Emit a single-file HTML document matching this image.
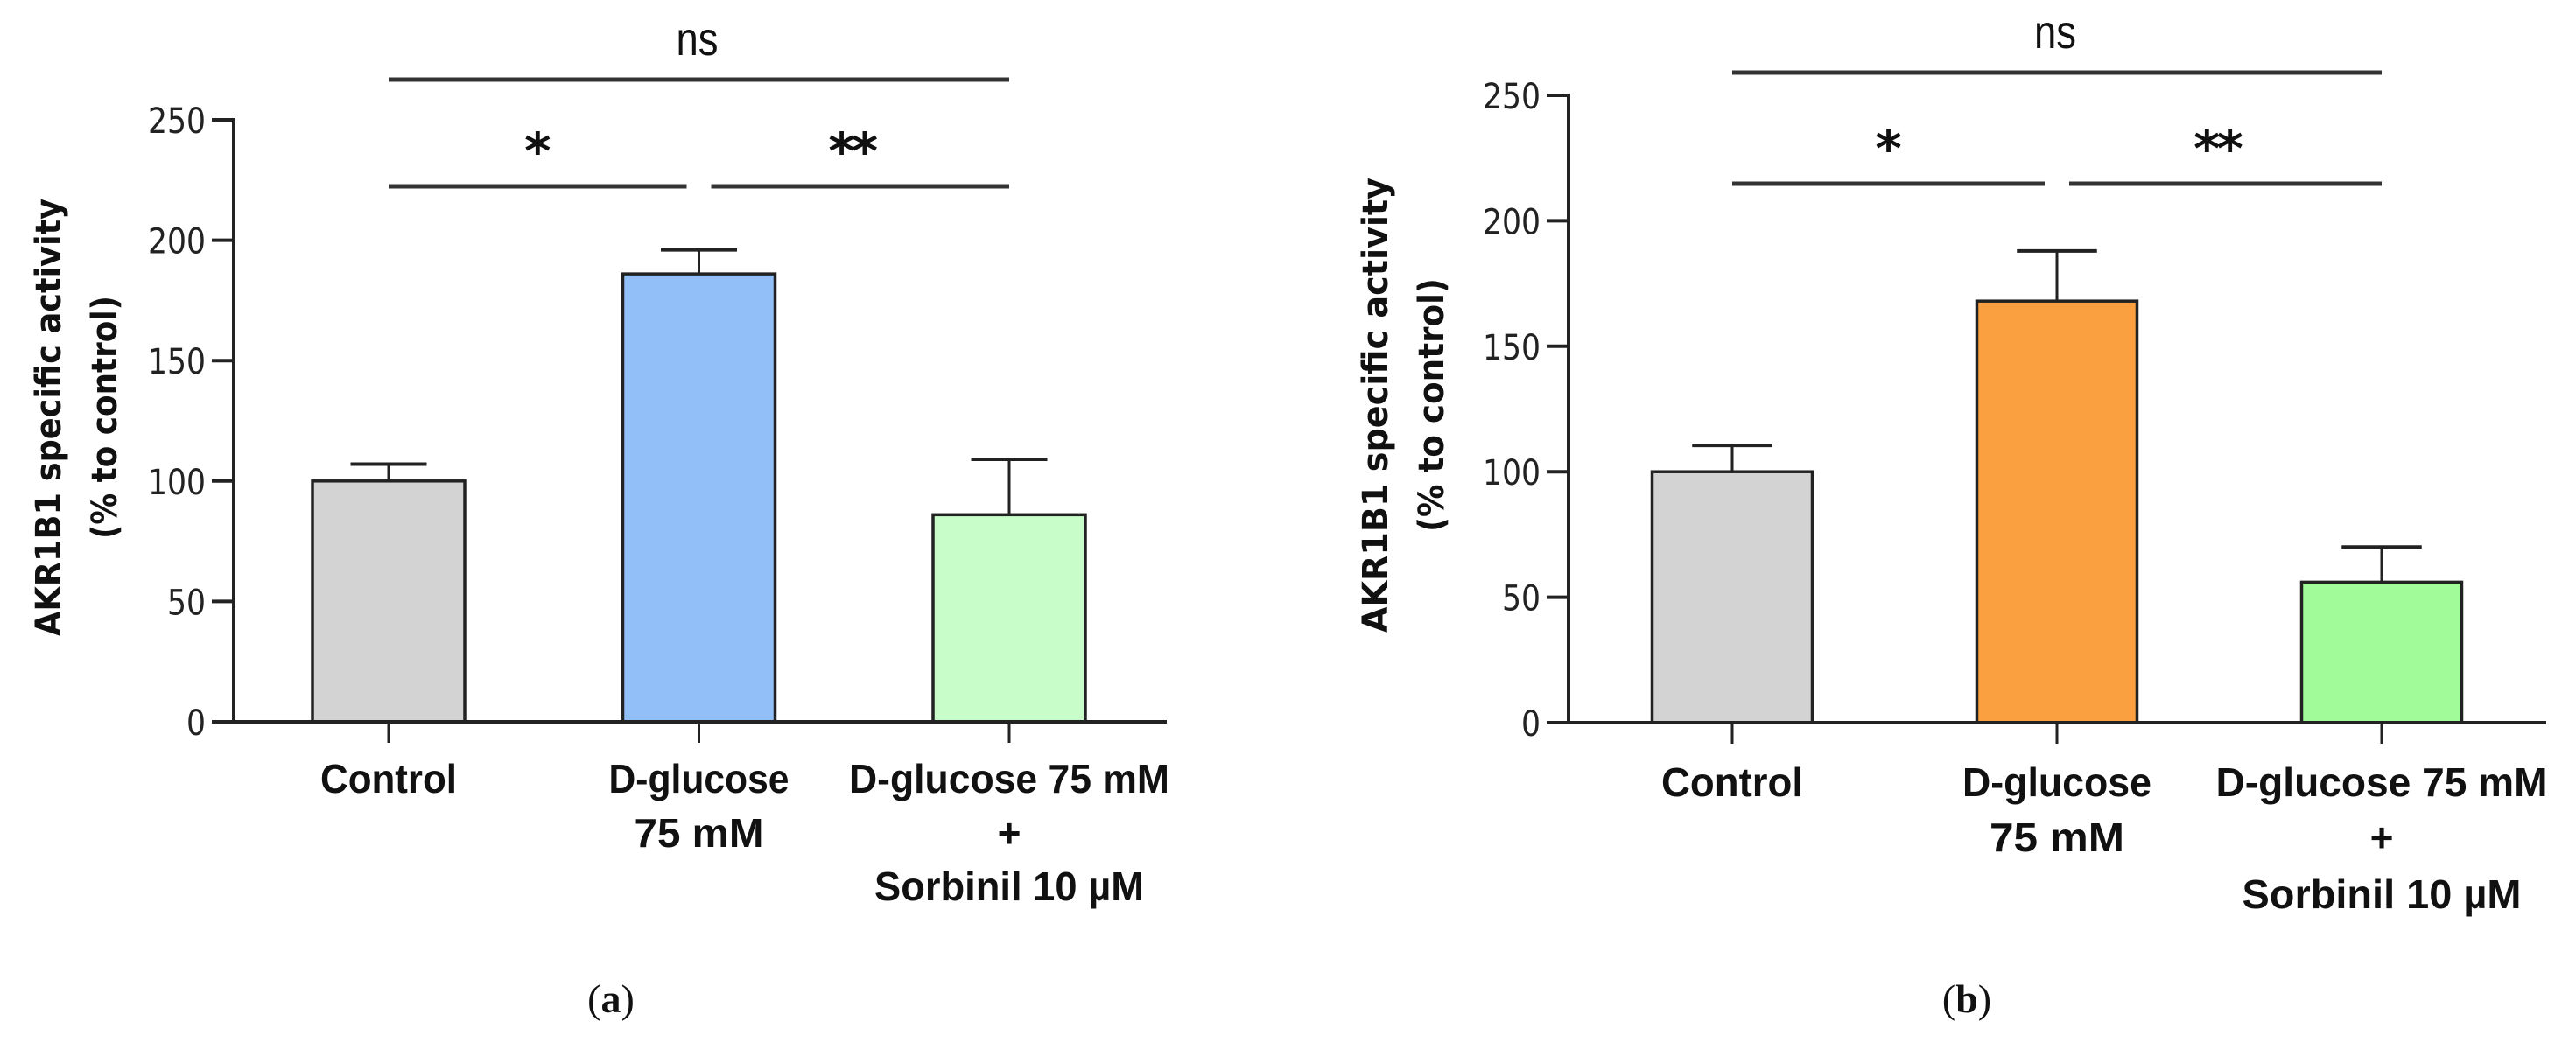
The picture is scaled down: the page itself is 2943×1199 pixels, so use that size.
<!DOCTYPE html>
<html><head><meta charset="utf-8"><style>
html,body{margin:0;padding:0;background:#fff;}
svg{display:block;}
</style></head><body>
<svg id="chart" width="2943" height="1199" viewBox="0 0 2943 1199" xmlns="http://www.w3.org/2000/svg">
<rect width="2943" height="1199" fill="#fff"/>
<g id="pa"></g>
<g id="pb"></g>
</svg>
<script>
const categories = ["Control", "D-glucose 75 mM", "D-glucose 75 mM + Sorbinil 10 µM"];
const yTicks = [0, 50, 100, 150, 200, 250];
const valuesA = [100, 186, 86];
const errorsA = [7, 10, 23];
const valuesB = [100, 168, 56];
const errorsB = [10.5, 20, 14];
const colorsA = ["#d3d3d3", "#92bff7", "#c8fcc8"];
const colorsB = ["#d3d3d3", "#fba040", "#a0fb98"];
const sigLabels = ["*", "**", "ns"];

const NS = "http://www.w3.org/2000/svg";
function el(parent, tag, attrs, text) {
  const e = document.createElementNS(NS, tag);
  for (const k in attrs) e.setAttribute(k, attrs[k]);
  if (text !== undefined) e.textContent = text;
  parent.appendChild(e);
  return e;
}

function drawPanel(g, cfg, values, errors, colors, panelName) {
  const y = v => cfg.y0 - (v / 250) * (cfg.y0 - cfg.y250);
  const x = i => cfg.c0 + i * cfg.step;
  // y title
  let t = el(g, "text", {transform: `translate(${cfg.tx1},${cfg.tcy}) rotate(-90)`, "text-anchor": "middle", "font-family": "DejaVu Sans, sans-serif", "font-weight": "bold", "font-size": 40, fill: "#111", textLength: cfg.tl1, lengthAdjust: "spacingAndGlyphs"}, "AKR1B1 specific activity");
  
  
  t = el(g, "text", {transform: `translate(${cfg.tx2},${cfg.tcy}) rotate(-90)`, "text-anchor": "middle", "font-family": "DejaVu Sans, sans-serif", "font-weight": "bold", "font-size": 40, fill: "#111", textLength: cfg.tl2, lengthAdjust: "spacingAndGlyphs"}, "(% to control)");
  
  
  // y ticks
  yTicks.forEach(v => {
    const l = el(g, "line", {x1: cfg.ax - 25, x2: cfg.ax, y1: y(v), y2: y(v), stroke: "#222", "stroke-width": 4});
    
    
    const s = String(v);
    const tt = el(g, "text", {x: cfg.ax - 32, y: y(v) + 15, "text-anchor": "end", "font-family": "DejaVu Sans, sans-serif", "font-size": 40, fill: "#222", textLength: 22 * s.length, lengthAdjust: "spacingAndGlyphs"}, s);
    
    
  });
  // bars
  values.forEach((v, i) => {
    const e = errors[i];
    const el1 = el(g, "line", {x1: x(i), x2: x(i), y1: y(v), y2: y(v + e), stroke: "#222", "stroke-width": 3});
    
    
    const cap = el(g, "line", {x1: x(i) - cfg.bw / 4, x2: x(i) + cfg.bw / 4, y1: y(v + e), y2: y(v + e), stroke: "#222", "stroke-width": 4});
    
    
    const r = el(g, "rect", {x: x(i) - cfg.bw / 2, y: y(v), width: cfg.bw, height: y(0) - y(v), fill: colors[i], stroke: "#222", "stroke-width": 3.5});
    
    
    const tk = el(g, "line", {x1: x(i), x2: x(i), y1: y(0), y2: y(0) + 24, stroke: "#222", "stroke-width": 3});
    
    
  });
  // axes
  let a = el(g, "line", {x1: cfg.ax, x2: cfg.ax, y1: y(250) - 2, y2: y(0) + 2, stroke: "#222", "stroke-width": 4});
  
  
  a = el(g, "line", {x1: cfg.ax - 2, x2: cfg.xend, y1: y(0), y2: y(0), stroke: "#222", "stroke-width": 4});
  
  
  // category labels
  const lines = [["Control"], ["D-glucose", "75 mM"], ["D-glucose 75 mM", "+", "Sorbinil 10 µM"]];
  lines.forEach((ls, i) => {
    ls.forEach((s, j) => {
      const w = cfg.lw[s];
      const attrs = {x: x(i), y: cfg.lb[j], "text-anchor": "middle", "font-family": "Liberation Sans, sans-serif", "font-weight": "bold", "font-size": 46, fill: "#111"};
      if (w) { attrs.textLength = w; attrs.lengthAdjust = "spacingAndGlyphs"; }
      const tl = el(g, "text", attrs, s);
      
      
    });
  });
  // significance
  const s1 = el(g, "line", {x1: x(0), x2: x(1) - 14, y1: cfg.sy, y2: cfg.sy, stroke: "#333", "stroke-width": 5});
  
  
  const s2 = el(g, "line", {x1: x(1) + 14, x2: x(2), y1: cfg.sy, y2: cfg.sy, stroke: "#333", "stroke-width": 5});
  
  
  const s3 = el(g, "line", {x1: x(0), x2: x(2), y1: cfg.nsy, y2: cfg.nsy, stroke: "#333", "stroke-width": 5});
  
  
  const st1 = el(g, "text", {x: (x(0) + x(1)) / 2 - 7, y: cfg.sy - 20, "text-anchor": "middle", "font-family": "DejaVu Sans, sans-serif", "font-weight": "bold", "font-size": 58, fill: "#111"}, sigLabels[0]);
  
  
  const st2 = el(g, "text", {x: (x(1) + x(2)) / 2 - 3, y: cfg.sy - 20, "text-anchor": "middle", "font-family": "DejaVu Sans, sans-serif", "font-weight": "bold", "font-size": 58, fill: "#111", "letter-spacing": -4}, sigLabels[1]);
  
  
  const ns = el(g, "text", {x: x(1) - 2, y: cfg.nsy - 28, "text-anchor": "middle", "font-family": "Liberation Sans, sans-serif", "font-size": 54, fill: "#111", textLength: 48, lengthAdjust: "spacingAndGlyphs"}, sigLabels[2]);
  
  
  // caption
  const cap = el(g, "text", {x: cfg.capx, y: 1157, "text-anchor": "middle", "font-family": "Liberation Serif, serif", "font-size": 46, fill: "#111"});
  
  
  el(cap, "tspan", {}, "(");
  el(cap, "tspan", {"font-weight": "bold"}, panelName);
  el(cap, "tspan", {}, ")");
}

drawPanel(document.getElementById("pa"), {
  y0: 825, y250: 137, ax: 267, xend: 1333, c0: 444, step: 354.5, bw: 174,
  tx1: 69, tx2: 133, tcy: 477, tl1: 500, tl2: 278,
  lb: [906, 968, 1029], sy: 213, nsy: 91, capx: 698,
  lw: {"Control": 156, "D-glucose": 206, "75 mM": 148, "D-glucose 75 mM": 366, "Sorbinil 10 µM": 308}
}, valuesA, errorsA, colorsA, "a");

drawPanel(document.getElementById("pb"), {
  y0: 826, y250: 109, ax: 1792, xend: 2909, c0: 1979, step: 371, bw: 183,
  tx1: 1585, tx2: 1649, tcy: 463, tl1: 520, tl2: 290,
  lb: [910, 973, 1038], sy: 210, nsy: 83, capx: 2247,
  lw: {"Control": 162, "D-glucose": 216, "75 mM": 154, "D-glucose 75 mM": 379, "Sorbinil 10 µM": 319}
}, valuesB, errorsB, colorsB, "b");
</script>
</body></html>
